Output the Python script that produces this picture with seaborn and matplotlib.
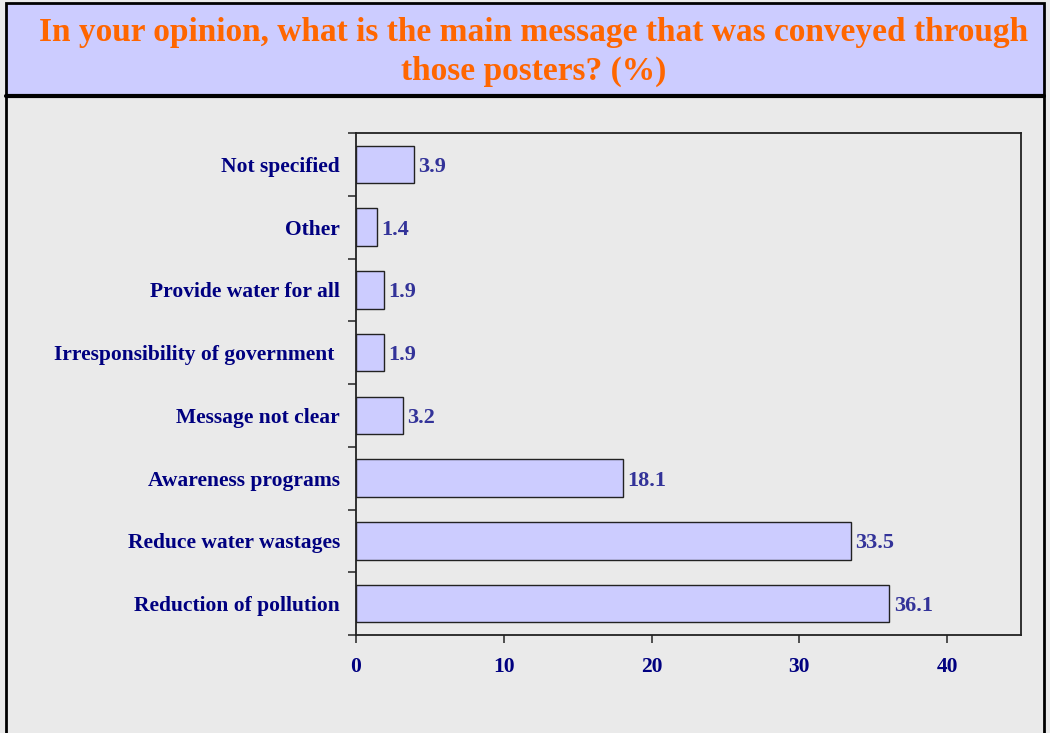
import matplotlib
matplotlib.use("Agg")
import matplotlib.pyplot as plt
import matplotlib.patches as mpatches
import seaborn as sns
import numpy as np

categories = [
    "Not specified",
    "Other",
    "Provide water for all",
    "Irresponsibility of government ",
    "Message not clear",
    "Awareness programs",
    "Reduce water wastages",
    "Reduction of pollution",
]
values = [3.9, 1.4, 1.9, 1.9, 3.2, 18.1, 33.5, 36.1]
x_ticks = [0, 10, 20, 30, 40]

title = "In your opinion, what is the main message that was conveyed through\nthose posters? (%)"

BG = "#EAEAEA"
BAR = "#CCCCFF"
NAVY = "#000080"
VAL = "#333399"
ORANGE = "#FF6600"

sns.set_theme(style="white")
plt.rcParams["font.family"] = ["Liberation Serif", "DejaVu Serif"]

fig = plt.figure(figsize=(10.5, 7.33), dpi=100, facecolor=BG)
ax = fig.add_axes([356 / 1050, 1 - 635 / 733, 665 / 1050, 502 / 733])
ax.set_facecolor(BG)

sns.barplot(
    x=values,
    y=categories,
    color=BAR,
    edgecolor="#222222",
    linewidth=1,
    width=0.6,
    saturation=1,
    ax=ax,
)

texts = ax.bar_label(
    ax.containers[0],
    labels=[f"{v:.1f}" for v in values],
    padding=3,
    color=VAL,
    fontsize=16,
    fontweight="bold",
)
for t in texts:
    t.set_va("center_baseline")

ax.set_xlim(0, 45)
ax.set_ylim(len(categories) - 0.5, -0.5)
ax.set_xticks(x_ticks)
ax.set_xlabel("")
ax.set_ylabel("")

# category ticks sit between bars
ax.set_yticks(np.arange(len(categories) + 1) - 0.5, minor=True)
ax.tick_params(axis="y", which="major", length=0, pad=11.5)
ax.tick_params(axis="y", which="minor", left=True, length=6, width=1.2, color="#333333")
ax.tick_params(axis="x", bottom=True, length=6, width=1.2, color="#333333", pad=10)

for lab in ax.get_yticklabels() + ax.get_xticklabels():
    lab.set_fontweight("bold")
    lab.set_color(NAVY)
    lab.set_fontsize(15.5)

for side in ["left", "bottom", "top", "right"]:
    ax.spines[side].set_visible(True)
    ax.spines[side].set_color("#222222")
    ax.spines[side].set_linewidth(1.3)

# title band and outer frame
fig.patches.append(mpatches.Rectangle(
    (0.006, 1 - 96 / 733), 0.988, 93 / 733,
    transform=fig.transFigure, facecolor=BAR, edgecolor="none", zorder=0))
fig.patches.append(mpatches.Rectangle(
    (0.006, -0.01), 0.988, 1.0 + 0.01 - 3 / 733,
    transform=fig.transFigure, facecolor="none", edgecolor="black",
    linewidth=2, zorder=1))
fig.add_artist(plt.Line2D([0.006, 0.994], [1 - 96 / 733] * 2,
                          transform=fig.transFigure, color="black", linewidth=3))

fig.text(0.508, 1 - 52 / 733, title, ha="center", va="center",
         color=ORANGE, fontsize=24, fontweight="bold", linespacing=1.3)

fig.savefig("out.png", dpi=100, facecolor=BG)
